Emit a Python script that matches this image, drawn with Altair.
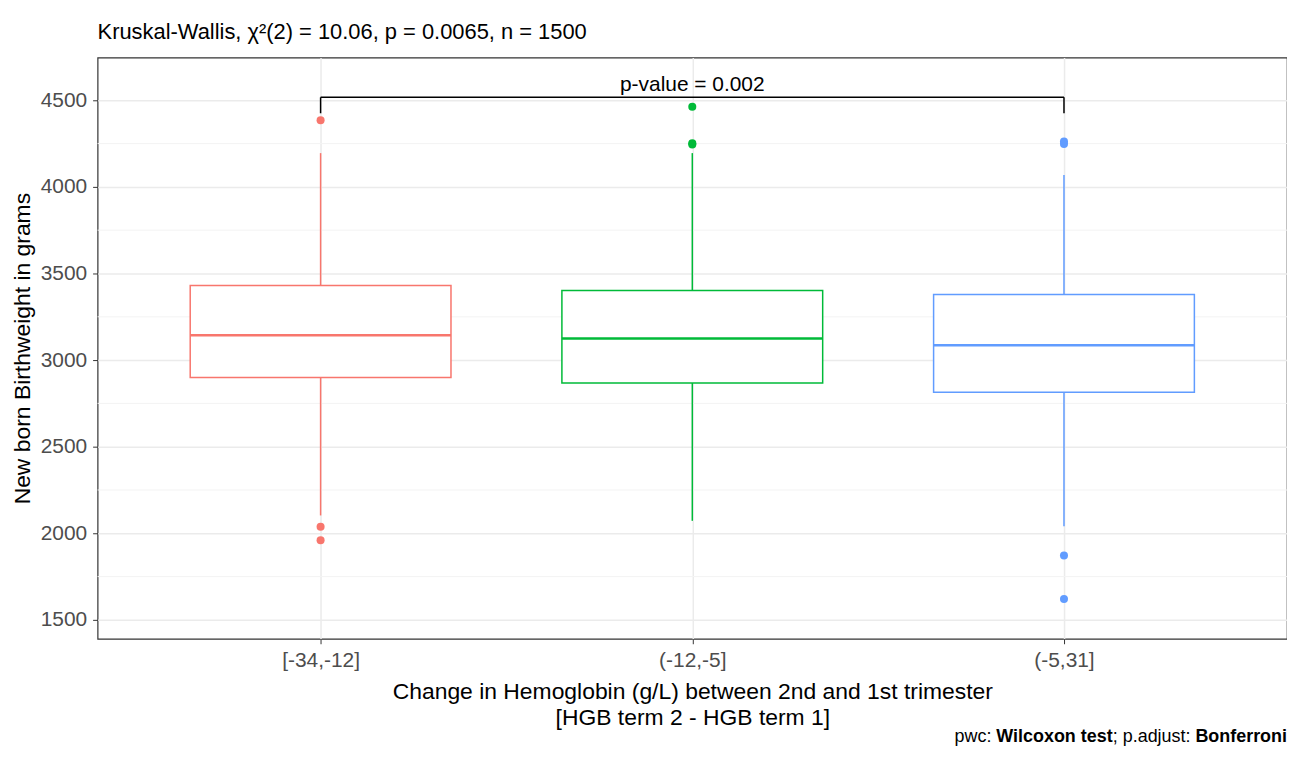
import altair as alt
import pandas as pd

# ---- data ----
cats = ["[-34,-12]", "(-12,-5]", "(-5,31]"]
colors = ["#F8766D", "#00BA38", "#619CFF"]
q1 = [2900, 2868, 2815]
median = [3143, 3125, 3085]
q3 = [3430, 3402, 3378]
whisk_low = [2103, 2072, 2040]
whisk_high = [4195, 4195, 4068]
out_group = [cats[0], cats[0], cats[0], cats[1], cats[1], cats[1], cats[2], cats[2], cats[2], cats[2]]
out_value = [4385, 2038, 1960, 4462, 4252, 4245, 4262, 4248, 1872, 1620]
y_ticks = [1500, 2000, 2500, 3000, 3500, 4000, 4500]
y_minor = [1750, 2250, 2750, 3250, 3750, 4250]
y_domain = [1391, 4747]
bracket_y = 4517
bracket_tip = 4425
bracket_label = "p-value = 0.002"
title_text = "Kruskal-Wallis, χ²(2) = 10.06, p = 0.0065, n = 1500"

FONT = "Liberation Sans"

box_df = pd.DataFrame({"grp": cats, "q1": q1, "med": median, "q3": q3,
                       "lo": whisk_low, "hi": whisk_high})
whisk_df = pd.DataFrame({
    "grp": cats + cats,
    "a": q3 + q1,
    "b": whisk_high + whisk_low,
})
out_df = pd.DataFrame({"grp": out_group, "v": out_value})
minor_df = pd.DataFrame({"v": y_minor})
br_h = pd.DataFrame({"x": [cats[0]], "x2": [cats[2]], "y": [bracket_y]})
br_v = pd.DataFrame({"x": [cats[0], cats[2]], "y": [bracket_y, bracket_y], "y2": [bracket_tip, bracket_tip]})
br_t = pd.DataFrame({"x": [cats[1]], "y": [bracket_y + 14], "t": [bracket_label]})

xscale = alt.Scale(type="point", domain=cats, padding=0.6)
yscale = alt.Scale(domain=y_domain, nice=False, zero=False)
cscale = alt.Scale(domain=cats, range=colors)

X = alt.X("grp:N", scale=xscale, sort=cats,
          axis=alt.Axis(title=["Change in Hemoglobin (g/L) between 2nd and 1st trimester",
                               "[HGB term 2 - HGB term 1]"],
                        labelAngle=0, grid=True, labelPadding=6, titlePadding=10,
                        titleLineHeight=26))
Y_axis = alt.Axis(title="New born Birthweight in grams", values=y_ticks, grid=True,
                  format="d", labelPadding=6, titlePadding=6)

minor = alt.Chart(minor_df).mark_rule(color="#F3F3F3", strokeWidth=1).encode(
    y=alt.Y("v:Q", scale=yscale, axis=Y_axis)
)

whiskers = alt.Chart(whisk_df).mark_rule(strokeWidth=1.5).encode(
    x=X,
    y=alt.Y("a:Q", scale=yscale),
    y2="b:Q",
    color=alt.Color("grp:N", scale=cscale, legend=None),
)

boxes = alt.Chart(box_df).mark_bar(size=262, fill="white", strokeWidth=1.5).encode(
    x=X,
    y=alt.Y("q3:Q", scale=yscale),
    y2="q1:Q",
    stroke=alt.Stroke("grp:N", scale=cscale, legend=None),
)

medians = alt.Chart(box_df).mark_tick(size=262, thickness=2.5, opacity=1).encode(
    x=X,
    y=alt.Y("med:Q", scale=yscale),
    color=alt.Color("grp:N", scale=cscale, legend=None),
)

outliers = alt.Chart(out_df).mark_circle(size=65, opacity=1).encode(
    x=X,
    y=alt.Y("v:Q", scale=yscale),
    color=alt.Color("grp:N", scale=cscale, legend=None),
)

bracket_h = alt.Chart(br_h).mark_rule(color="black", strokeWidth=1.5).encode(
    x=alt.X("x:N", scale=xscale, sort=cats), x2="x2:N", y=alt.Y("y:Q", scale=yscale)
)
bracket_v = alt.Chart(br_v).mark_rule(color="black", strokeWidth=1.5).encode(
    x=alt.X("x:N", scale=xscale, sort=cats), y=alt.Y("y:Q", scale=yscale), y2="y2:Q"
)
bracket_t = alt.Chart(br_t).mark_text(font=FONT, fontSize=21, baseline="bottom",
                                      color="black").encode(
    x=alt.X("x:N", scale=xscale, sort=cats), y=alt.Y("y:Q", scale=yscale), text="t:N"
)

cap_y = 683
cap_size = 18
cap_parts = [
    ("pwc:", "normal", 861),
    ("Wilcoxon test", "bold", 903),
    ("; p.adjust:", "normal", 1020),
    ("Bonferroni", "bold", 1103),
]
caps = []
for txt, wt, xp in cap_parts:
    caps.append(
        alt.Chart(pd.DataFrame({"t": [txt]})).mark_text(
            font=FONT, fontSize=cap_size, fontWeight=wt, align="left",
            baseline="middle", color="black"
        ).encode(x=alt.value(xp), y=alt.value(cap_y), text="t:N")
    )

chart = alt.layer(minor, whiskers, boxes, medians, outliers,
                  bracket_h, bracket_v, bracket_t, *caps).properties(
    width=1195,
    height=584,
    autosize=alt.AutoSizeParams(type="none"),
    padding={"left": 90, "top": 48, "right": 0, "bottom": 106},
    title=alt.Title(title_text, anchor="start", frame="group", font=FONT,
                    fontSize=22, fontWeight="normal", color="black", offset=14),
).configure_view(
    stroke="#333333", strokeWidth=1.2
).configure_axis(
    domain=False,
    gridColor="#EBEBEB",
    gridWidth=1.5,
    tickColor="#333333",
    tickSize=5,
    labelColor="#4D4D4D",
    labelFont=FONT,
    labelFontSize=21,
    titleFont=FONT,
    titleFontSize=23,
    titleFontWeight="normal",
    titleColor="black",
)

chart.save("out.html", embed_options={"renderer": "svg", "actions": False})
